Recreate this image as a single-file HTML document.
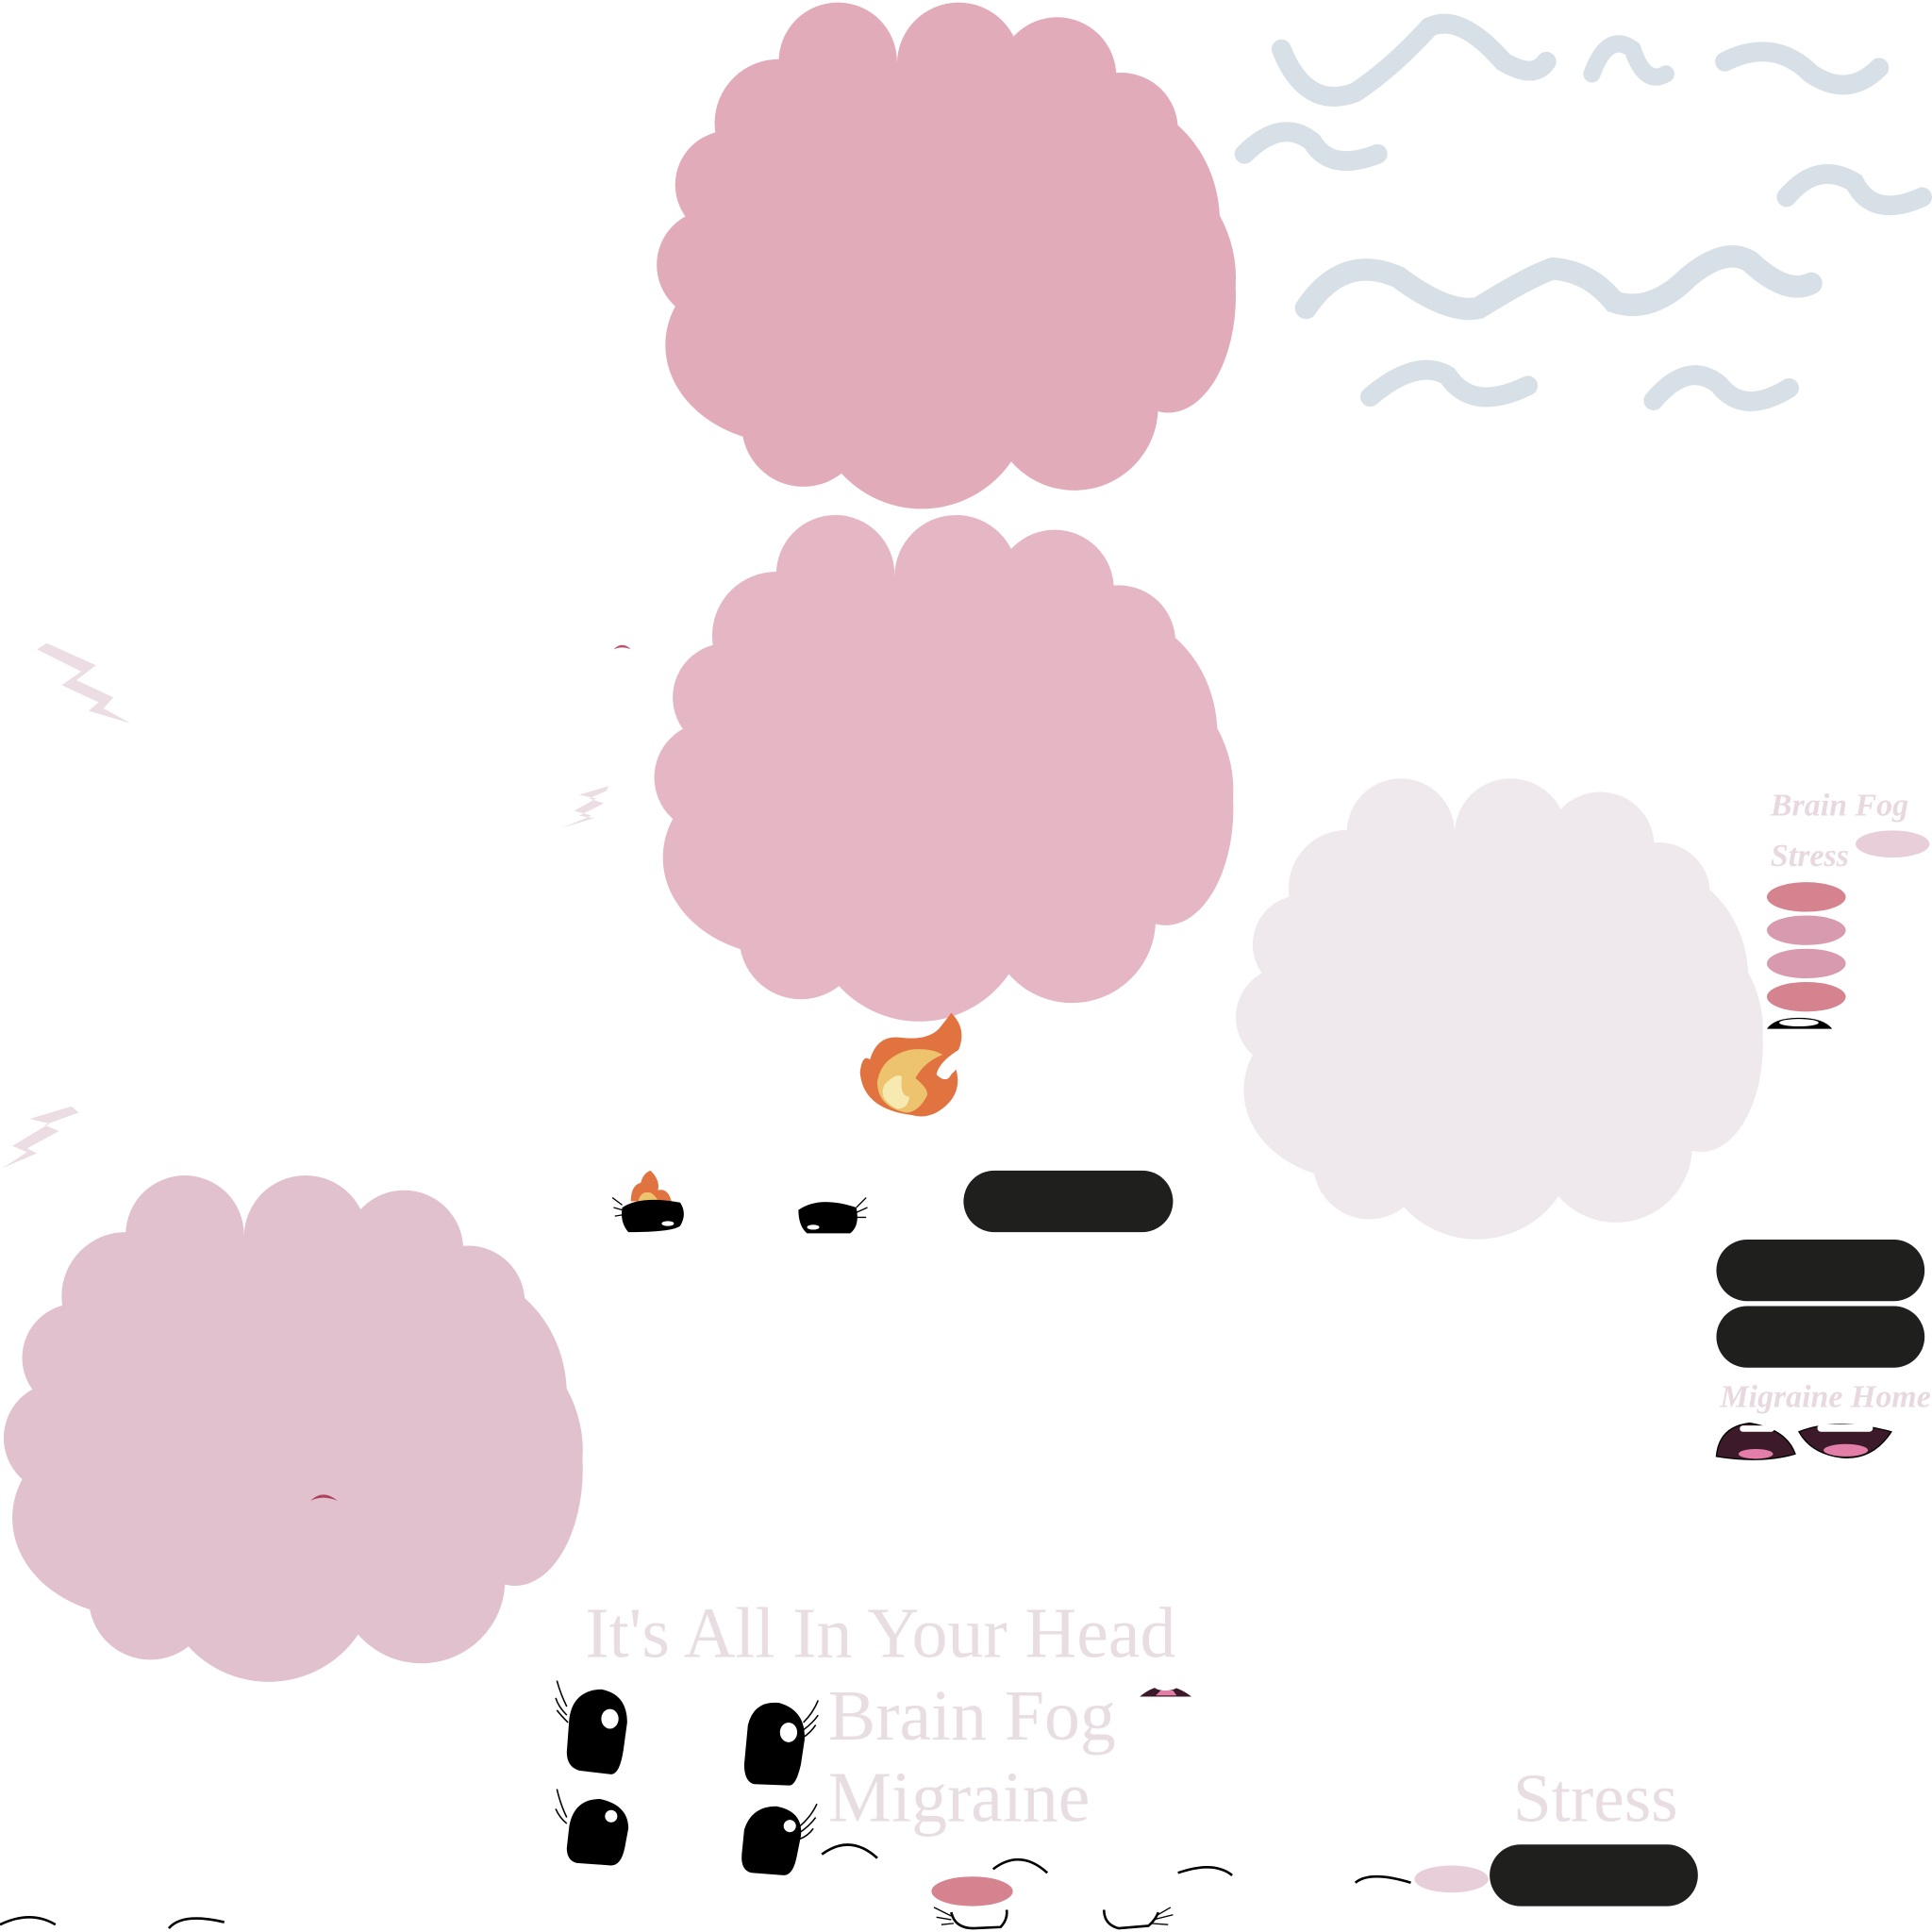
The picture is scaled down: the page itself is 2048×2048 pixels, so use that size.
<!DOCTYPE html>
<html><head><meta charset="utf-8">
<style>html,body{margin:0;padding:0;background:#fff}svg{display:block}</style></head>
<body>
<svg width="2048" height="2048" viewBox="0 0 1568 1568" xmlns="http://www.w3.org/2000/svg">
<defs>
<g id="cloud">
<circle cx="680" cy="50" r="48"/>
<circle cx="778" cy="52" r="50"/>
<circle cx="720" cy="95" r="45"/>
<circle cx="858" cy="62" r="48"/>
<circle cx="910" cy="105" r="46"/>
<circle cx="632" cy="100" r="52"/>
<circle cx="592" cy="150" r="44"/>
<circle cx="578" cy="215" r="45"/>
<ellipse cx="775" cy="225" rx="228" ry="150"/>
<ellipse cx="640" cy="280" rx="100" ry="80"/>
<circle cx="652" cy="345" r="50"/>
<circle cx="748" cy="325" r="88"/>
<circle cx="872" cy="330" r="68"/>
<ellipse cx="948" cy="240" rx="55" ry="95"/>
<ellipse cx="900" cy="180" rx="90" ry="100"/>
</g>
</defs>

<use href="#cloud" fill="#e1abba"/>
<use href="#cloud" fill="#e5b6c4" transform="translate(-2,416)"/>
<use href="#cloud" fill="#efe8ec" transform="translate(518,630) scale(0.91)"/>
<use href="#cloud" fill="#e1c1cd" transform="translate(-530,952)"/>

<g fill="none" stroke="#d8e0e7" stroke-linecap="round">
<path d="M1040,40 Q1060,90 1100,75 Q1130,55 1160,22 Q1185,10 1220,50 Q1245,65 1255,50" stroke-width="16"/>
<path d="M1292,60 Q1305,25 1325,40 Q1335,70 1352,60" stroke-width="14"/>
<path d="M1400,50 Q1440,30 1470,60 Q1500,80 1525,55" stroke-width="16"/>
<path d="M1010,125 Q1040,95 1065,115 Q1080,140 1118,125" stroke-width="16"/>
<path d="M1450,160 Q1475,130 1505,148 Q1520,178 1560,160" stroke-width="16"/>
<path d="M1060,250 Q1090,205 1135,225 Q1175,255 1200,250 Q1240,225 1260,218 Q1290,220 1310,245 Q1340,255 1370,225 Q1400,200 1420,212 Q1450,240 1470,230" stroke-width="18"/>
<path d="M1112,322 Q1150,290 1175,305 Q1195,335 1240,313" stroke-width="16"/>
<path d="M1342,325 Q1370,292 1395,312 Q1415,338 1452,315" stroke-width="16"/>
</g>

<g fill="#ebdde3">
<path d="M30,527 L38,522 L78,540 L62,552 L92,566 L84,575 L106,587 L72,577 L80,570 L50,556 L66,545 Z"/>
<path d="M456,672 L480,662 L466,658 L484,648 L470,645 L494,638 L492,642 L478,648 L490,652 L470,662 L482,664 Z"/>
<path d="M2,948 L22,935 L10,930 L40,912 L24,908 L58,898 L64,903 L36,913 L48,918 L22,932 L30,936 Z"/>
</g>

<path d="M498,527 Q505,520 512,527 Q505,524 498,527Z" fill="#c0506a"/>
<path d="M252,1218 Q262,1208 274,1218 Q262,1213 252,1218Z" fill="#b04060"/>

<path d="M740,905 Q700,900 698,870 Q700,855 706,860 Q712,840 730,842 Q752,845 762,835 Q770,825 772,822 Q785,835 778,852 Q762,862 760,872 Q768,880 772,872 L776,868 Q782,890 760,903 Q750,908 740,905Z" fill="#e07340"/>
<path d="M735,903 Q712,898 712,878 Q715,858 738,852 Q755,850 765,856 Q750,862 743,875 Q755,885 752,890 Q745,903 735,903Z" fill="#edc36d"/>
<path d="M728,900 Q712,892 718,880 Q728,870 732,874 Q730,890 738,890 Q737,900 728,900Z" fill="#f7eab0"/>
<path d="M512,975 Q512,962 520,960 Q522,952 528,950 Q536,958 534,966 Q542,964 545,975Z" fill="#e07340"/>
<path d="M518,975 Q520,966 528,968 Q532,970 534,975Z" fill="#edc36d"/>
<path d="M505,980 Q520,970 552,976 Q558,985 552,995 Q545,1000 510,1000 Q503,992 505,980Z" fill="#000"/>
<path d="M648,982 Q665,970 695,980 Q698,995 690,1001 L655,1001 Q648,995 648,982Z" fill="#000"/>
<g stroke="#000" stroke-width="1" fill="none"><path d="M505,978 L497,972 M505,982 L498,980 M505,986 L499,987"/><path d="M695,980 L703,972 M695,984 L704,980 M695,988 L703,988"/></g>
<ellipse cx="542" cy="993" rx="5" ry="2" fill="#fff"/><ellipse cx="660" cy="996" rx="5" ry="2" fill="#fff"/>

<g fill="#1f1f1d">
<rect x="782" y="950" width="170" height="50" rx="25"/>
<rect x="1393" y="1006" width="169" height="50" rx="25"/>
<rect x="1393" y="1060" width="169" height="50" rx="25"/>
<rect x="1209" y="1497" width="169" height="50" rx="25"/>
</g>

<ellipse cx="1466" cy="728" rx="32" ry="12" fill="#d5838f"/>
<ellipse cx="1466" cy="755" rx="32" ry="12" fill="#d79aae"/>
<ellipse cx="1466" cy="782" rx="32" ry="12" fill="#d79aae"/>
<ellipse cx="1466" cy="809" rx="32" ry="12" fill="#d5838f"/>
<ellipse cx="1536" cy="685" rx="30" ry="11" fill="#e8ced9"/>
<ellipse cx="789" cy="1535" rx="33" ry="12" fill="#d5838f"/>
<ellipse cx="1178" cy="1525" rx="30" ry="11" fill="#e8ced9"/>
<path d="M1434,835 Q1440,826 1460,826 Q1480,826 1487,835Z" fill="#000"/><ellipse cx="1460" cy="830" rx="16" ry="3" fill="#fff"/>

<path d="M1393,1182 Q1395,1158 1420,1155 Q1450,1160 1457,1180 Q1430,1188 1393,1182Z" fill="#3d1a2a" stroke="#000" stroke-width="1"/>
<rect x="1412" y="1157" width="28" height="5" rx="2.5" fill="#fff"/>
<ellipse cx="1425" cy="1180" rx="14" ry="4" fill="#e27ea7"/>
<path d="M1460,1162 Q1490,1150 1535,1162 Q1520,1185 1495,1183 Q1470,1180 1460,1162Z" fill="#3d1a2a" stroke="#000" stroke-width="1"/>
<rect x="1475" y="1156" width="45" height="6" rx="3" fill="#fff"/>
<ellipse cx="1498" cy="1177" rx="18" ry="5" fill="#e27ea7"/>
<path d="M925,1377 Q945,1360 967,1377Z" fill="#3d1a2a"/><ellipse cx="946" cy="1369" rx="9" ry="3" fill="#fff"/>
<path d="M938,1376 L942,1372 L952,1372 L955,1376Z" fill="#e27ea7"/>

<path d="M462,1395 Q465,1372 488,1371 Q509,1375 509,1398 L506,1420 Q503,1440 496,1440 L470,1437 Q460,1434 460,1422Z" fill="#000"/>
<ellipse cx="495" cy="1395" rx="7" ry="8" fill="#fff"/>
<path d="M607,1400 Q612,1380 632,1382 Q654,1388 653,1412 L650,1432 Q646,1450 640,1449 L612,1448 Q604,1446 604,1432Z" fill="#000"/>
<ellipse cx="640" cy="1406" rx="7" ry="8" fill="#fff"/>
<path d="M462,1482 Q466,1460 487,1460 Q510,1465 510,1484 L507,1500 Q504,1514 496,1514 L468,1512 Q460,1510 460,1500Z" fill="#000"/>
<circle cx="496" cy="1474" r="5" fill="#fff"/>
<path d="M604,1485 Q610,1466 630,1466 Q652,1470 650,1490 L647,1505 Q644,1522 636,1522 L610,1520 Q601,1518 602,1505Z" fill="#000"/>
<circle cx="641" cy="1482" r="5" fill="#fff"/>
<g stroke="#000" stroke-width="1.2" fill="none">
<path d="M460,1385 Q455,1375 452,1364 M460,1392 Q453,1385 451,1378 M461,1398 Q455,1392 452,1388"/>
<path d="M652,1398 Q660,1390 664,1380 M652,1404 Q660,1398 664,1392 M652,1410 Q658,1406 662,1400"/>
<path d="M460,1475 Q455,1465 452,1452 M460,1480 Q454,1475 451,1468"/>
<path d="M648,1483 Q658,1475 663,1464 M648,1488 Q657,1482 662,1475 M648,1493 Q656,1490 660,1484"/>
</g>
<g stroke="#000" stroke-width="2" fill="none">
<path d="M667,1505 Q690,1488 712,1508"/>
<path d="M806,1517 Q828,1500 850,1520"/>
<path d="M956,1520 Q985,1510 1000,1522"/>
<path d="M1100,1528 Q1112,1518 1145,1528"/>
<path d="M0,1562 Q25,1550 45,1562"/>
<path d="M137,1565 Q148,1552 182,1560"/>
<path d="M772,1552 Q775,1565 790,1565 L812,1564 Q818,1558 817,1550"/>
<path d="M896,1550 Q896,1562 908,1565 L932,1563 Q938,1558 940,1552"/>
</g>
<g stroke="#000" stroke-width="1" fill="none">
<path d="M772,1555 L758,1548 M772,1558 L760,1556 M774,1561 L764,1562"/>
<path d="M938,1555 L950,1548 M936,1558 L952,1554 M934,1561 L948,1562"/>
</g>

<g font-family="Liberation Serif, serif" fill="#e8dde3">
<text x="475" y="1345" font-size="58">It's All In Your Head</text>
<text x="672" y="1412" font-size="58">Brain Fog</text>
<text x="672" y="1478" font-size="58">Migraine</text>
<text x="1228" y="1478" font-size="56">Stress</text>
</g>
<g font-family="Liberation Serif, serif" font-style="italic" font-weight="bold" fill="#e8d8e0">
<text x="1437" y="662" font-size="26">Brain Fog</text>
<text x="1437" y="703" font-size="26">Stress</text>
<text x="1396" y="1142" font-size="26">Migraine Home</text>
</g>
</svg>
</body></html>
